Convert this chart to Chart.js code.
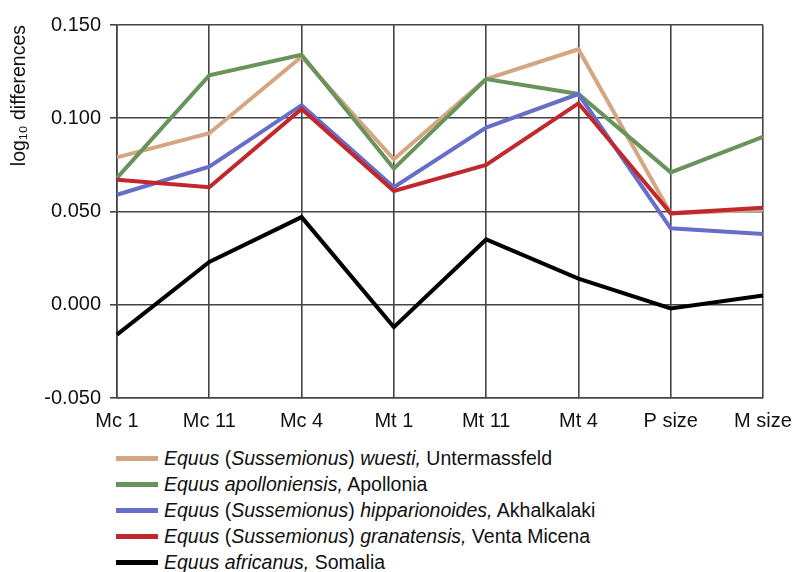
<!DOCTYPE html>
<html>
<head>
<meta charset="utf-8">
<script src="https://cdn.jsdelivr.net/npm/chart.js@4/dist/chart.umd.min.js"></script>
<style>
  html, body { margin: 0; padding: 0; background: #fff; }
  #wrap { position: relative; width: 803px; height: 572px; font-family: "Liberation Sans", Arial, sans-serif; }
  #chartBox { position: absolute; left: 0; top: 0; width: 803px; height: 440px; }
  #legend { position: absolute; left: 116px; top: 445px; }
  .row { display: flex; align-items: center; height: 26px; font-size: 19.5px; color: #111; white-space: nowrap; }
  .sw { width: 42px; height: 5px; margin-right: 6px; }
</style>
</head>
<body>
<div id="wrap">
  <div id="chartBox"><canvas id="c"></canvas></div>
  <div id="legend"></div>
</div>
<script>
// ---- data ----
const categories = ["Mc 1", "Mc 11", "Mc 4", "Mt 1", "Mt 11", "Mt 4", "P size", "M size"];
const yTicks = [-0.05, 0.0, 0.05, 0.10, 0.15];

const wuesti        = [0.079, 0.092, 0.133, 0.078, 0.121, 0.137, 0.049, 0.051];
const apolloniensis = [0.068, 0.123, 0.134, 0.073, 0.121, 0.113, 0.071, 0.090];
const hipparionoides= [0.059, 0.074, 0.107, 0.063, 0.095, 0.113, 0.041, 0.038];
const granatensis   = [0.067, 0.063, 0.105, 0.061, 0.075, 0.108, 0.049, 0.052];
const africanus     = [-0.016, 0.023, 0.047, -0.012, 0.035, 0.014, -0.002, 0.005];

// legend label parts: [italic, normal] pieces
const seriesNames = [
  [["i","Equus"],["n"," ("],["i","Sussemionus"],["n",") "],["i","wuesti,"],["n"," Untermassfeld"]],
  [["i","Equus apolloniensis,"],["n"," Apollonia"]],
  [["i","Equus"],["n"," ("],["i","Sussemionus"],["n",") "],["i","hipparionoides,"],["n"," Akhalkalaki"]],
  [["i","Equus"],["n"," ("],["i","Sussemionus"],["n",") "],["i","granatensis,"],["n"," Venta Micena"]],
  [["i","Equus africanus,"],["n"," Somalia"]]
];
const seriesPlain = seriesNames.map(p => p.map(x => x[1]).join(""));
const seriesData = [wuesti, apolloniensis, hipparionoides, granatensis, africanus];
const seriesColors = ["rgb(212,166,130)", "rgb(104,148,92)", "rgb(102,110,200)", "rgb(192,40,46)", "rgb(0,0,0)"];

// ---- chart ----
const datasets = seriesData.map((d, i) => ({
  label: seriesPlain[i],
  data: d,
  borderColor: seriesColors[i],
  backgroundColor: seriesColors[i],
  borderWidth: 4,
  pointRadius: 0,
  tension: 0,
  fill: false,
  order: seriesData.length - i
}));

const gridColor = "#444";
const fam = "'Liberation Sans', Arial, sans-serif";
new Chart(document.getElementById("c"), {
  type: "line",
  data: { labels: categories, datasets },
  options: {
    responsive: true,
    maintainAspectRatio: false,
    animation: false,
    layout: { padding: { top: 25, right: 40, bottom: 0, left: 0 } },
    plugins: { legend: { display: false }, tooltip: { enabled: false } },
    scales: {
      x: {
        type: "category",
        offset: false,
        afterFit: s => { s.height = 42; },
        grid: { color: gridColor, lineWidth: 1.6, drawTicks: false },
        border: { color: gridColor, width: 1.6 },
        ticks: { color: "#111", padding: 11, maxRotation: 0, autoSkip: false,
                 font: { family: fam, size: 20 } }
      },
      y: {
        min: -0.05, max: 0.15,
        afterFit: s => { s.width = 117; },
        afterBuildTicks: s => { s.ticks = yTicks.map(v => ({ value: v })); },
        grid: { color: gridColor, lineWidth: 1.6, tickLength: 7 },
        border: { color: gridColor, width: 1.6 },
        ticks: { color: "#111", padding: 9,
                 callback: v => Number(v).toFixed(3),
                 font: { family: fam, size: 20 } },
        title: { display: true, text: "log\u2081\u2080 differences", align: "end", color: "#111",
                 padding: { top: 8, bottom: 0 },
                 font: { family: fam, size: 19.5 } }
      }
    }
  },
  plugins: [{
    id: "titleShift",
    afterLayout(chart) { }
  }]
});

// ---- HTML legend ----
const lg = document.getElementById("legend");
seriesNames.forEach((parts, i) => {
  const row = document.createElement("div");
  row.className = "row";
  const sw = document.createElement("div");
  sw.className = "sw";
  sw.style.background = seriesColors[i];
  row.appendChild(sw);
  const txt = document.createElement("span");
  parts.forEach(([k, t]) => {
    const s = document.createElement("span");
    if (k === "i") s.style.fontStyle = "italic";
    s.textContent = t;
    txt.appendChild(s);
  });
  row.appendChild(txt);
  lg.appendChild(row);
});
</script>
</body>
</html>
